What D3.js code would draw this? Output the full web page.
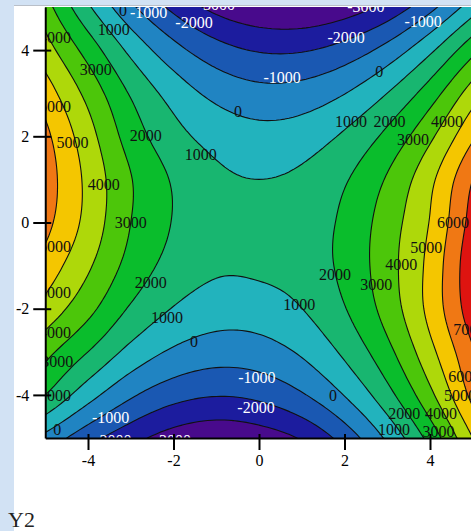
<!DOCTYPE html>
<html>
<head>
<meta charset="utf-8">
<script src="https://cdn.jsdelivr.net/npm/d3@7"></script>
<style>
body { margin: 0; background: #d2e2f4; }
svg { display: block; }
</style>
</head>
<body>
<script>
// sampled surface, x = -5..5 (columns), y = 5..-5 (rows, top first)
var xVals = [-5, -4, -3, -2, -1, 0, 1, 2, 3, 4, 5];
var yVals = [5, 4, 3, 2, 1, 0, -1, -2, -3, -4, -5];
var zRows = [
	[3400, 1150, -800, -2250, -3300, -3850, -3950, -3550, -2700, -1300, 500],
	[4450, 2600, 750, -650, -1600, -2080, -2080, -1600, -650, 800, 2700],
	[5500, 3700, 1900, 600, -280, -680, -590, -30, 1000, 2500, 4500],
	[6250, 4400, 2550, 1350, 650, 340, 500, 1150, 2250, 3800, 5850],
	[6500, 4750, 3050, 1900, 1200, 1000, 1200, 1900, 3100, 4750, 7000],
	[6300, 4680, 3000, 1950, 1350, 1230, 1480, 2200, 3500, 5050, 7400],
	[5600, 4150, 2650, 1650, 1150, 1180, 1450, 2250, 3600, 5300, 7750],
	[4650, 3300, 1880, 950, 490, 520, 990, 1950, 3400, 5300, 7600],
	[3300, 2000, 700, -150, -530, -430, 140, 1200, 2700, 4700, 6900],
	[2000, 400, -850, -1630, -1940, -1760, -1100, 40, 1650, 3750, 6300],
	[-300, -1650, -2650, -3450, -3800, -3550, -2900, -1600, 180, 2350, 5000]
];

var levels = [-5000, -4000, -3000, -2000, -1000, 0, 1000, 2000, 3000, 4000, 5000, 6000, 7000];
var bandColors = ["#480a8c", "#480a8c", "#1c1c9e", "#1a58b2", "#2084c2", "#22b3bd",
	"#18b670", "#0abd2c", "#4cc60a", "#aed80a", "#f4c600", "#f07814", "#de1410"];

var xTicks = [-4, -2, 0, 2, 4];
var yTicks = [-4, -2, 0, 2, 4];

// contour labels (value, and where it sits in data units)
var labelVals = [-1000, -2000, -3000, -3000, 1000, 0, 4000, 3000, 6000, 5000, 2000, 1000, 0,
	-1000, -2000, -1000, 0, 1000, 2000, 4000, 3000, 4000, 3000, 6000, 5000, 4000, 3000, 2000,
	6000, 5000, 4000, 3000, 2000, 2000, 1000, 0, 1000, -1000, -2000, 0, -1000, -2000, -3000,
	0, 1000, 3000, 2000, 4000, 5000, 6000, 7000];
var labelX = [-2.58, -1.52, -1.0, 2.5, -3.4, -3.18, -4.77, -3.82, -4.77, -4.36, -2.65, -1.36, -0.49,
	0.54, 2.04, 3.84, 2.81, 2.15, 3.05, 4.4, 3.6, -3.63, -3.0, 4.54, 3.91, 3.33, 2.74, 1.78,
	-4.77, -4.77, -4.77, -4.72, -4.77, -2.53, -2.15, -1.52, 0.94, -0.05, -0.07, 1.73, -3.47, -3.42, -2.03,
	-4.72, 3.16, 4.2, 3.4, 4.26, 4.7, 4.8, 4.92];
var labelY = [4.88, 4.65, 5.05, 5.02, 4.47, 4.92, 4.3, 3.56, 2.7, 1.86, 2.02, 1.58, 2.58,
	3.37, 4.3, 4.67, 3.51, 2.35, 2.35, 2.35, 1.93, 0.88, 0, 0, -0.58, -0.98, -1.44, -1.21,
	-0.56, -1.63, -2.56, -3.23, -4.0, -1.4, -2.21, -2.77, -1.9, -3.6, -4.3, -4.0, -4.52, -5.05, -5.05,
	-4.81, -4.8, -4.85, -4.44, -4.44, -4.0, -3.58, -2.49];

var W = 471, H = 531;
var res = 10; // samples per unit when drawing

var svg = d3.select("body").append("svg")
	.attr("width", W)
	.attr("height", H);

// white panel
svg.append("rect")
	.attr("x", 14).attr("y", 6)
	.attr("width", W - 14).attr("height", H - 6)
	.attr("fill", "#fff");
svg.append("line")
	.attr("x1", 14).attr("x2", W).attr("y1", 5.5).attr("y2", 5.5)
	.attr("stroke", "#b9bfc8");

var x = d3.scaleLinear().domain([-5, 5]).range([45.25, 472.75]);
var y = d3.scaleLinear().domain([-5, 5]).range([438, 7]);

// cubic through the samples, used only to draw smooth bands
var cubic = function(arr, n) {
	var m = arr.length, out = [];
	var at = function(i) {
		if (i < 0) return 2 * arr[0] - arr[1];
		if (i > m - 1) return 2 * arr[m - 1] - arr[m - 2];
		return arr[i];
	};
	for (var k = 0; k <= (m - 1) * n; k++) {
		var s = k / n, i = Math.min(Math.floor(s), m - 2), t = s - i;
		var p0 = at(i - 1), p1 = at(i), p2 = at(i + 1), p3 = at(i + 2);
		out.push(0.5 * (2 * p1 + (p2 - p0) * t + (2 * p0 - 5 * p1 + 4 * p2 - p3) * t * t +
			(3 * p1 - p0 - 3 * p2 + p3) * t * t * t));
	}
	return out;
};

var fineRows = zRows.map(function(r) { return cubic(r, res); });
var nx = fineRows[0].length;
var cols = d3.range(nx).map(function(j) {
	return cubic(fineRows.map(function(r) { return r[j]; }), res);
});
var ny = cols[0].length;
var values = new Array(nx * ny);
for (var i = 0; i < ny; i++)
	for (var j = 0; j < nx; j++) values[i * nx + j] = cols[j][i];

var contours = d3.contours()
	.size([nx, ny])
	.thresholds(levels)(values);

var proj = d3.geoTransform({
	point: function(px, py) {
		this.stream.point(x(xVals[0] + (px - 0.5) / res), y(yVals[0] - (py - 0.5) / res));
	}
});
var path = d3.geoPath(proj);

svg.append("clipPath").attr("id", "plotClip")
	.append("rect")
	.attr("x", x(-5)).attr("y", y(5))
	.attr("width", x(5) - x(-5)).attr("height", y(-5) - y(5));

var plot = svg.append("g").attr("clip-path", "url(#plotClip)");

plot.selectAll("path.band")
	.data(contours)
	.enter().append("path")
	.attr("class", "band")
	.attr("d", path)
	.attr("fill", function(d, k) { return bandColors[k]; })
	.attr("stroke", "#111")
	.attr("stroke-width", 1.1);

plot.selectAll("text.clab")
	.data(labelVals)
	.enter().append("text")
	.attr("class", "clab")
	.attr("x", function(d, k) { return x(labelX[k]); })
	.attr("y", function(d, k) { return y(labelY[k]); })
	.attr("dy", "0.35em")
	.attr("text-anchor", "middle")
	.attr("font-family", "Liberation Serif, serif")
	.attr("font-size", 16)
	.attr("fill", function(d) { return d < 0 ? "#fff" : "#111"; })
	.text(function(d) { return d; });

// axes
var fmt = function(d) { return String(d); };
var xAxis = d3.axisBottom(x).tickValues(xTicks).tickFormat(fmt)
	.tickSizeInner(12).tickSizeOuter(0).tickPadding(5);
var yAxis = d3.axisLeft(y).tickValues(yTicks).tickFormat(fmt)
	.tickSizeInner(12).tickSizeOuter(0).tickPadding(4);

var gx = svg.append("g")
	.attr("transform", "translate(0," + y(-5) + ")")
	.call(xAxis);
var gy = svg.append("g")
	.attr("transform", "translate(" + x(-5) + ",0)")
	.call(yAxis);

[gx, gy].forEach(function(g) {
	g.select(".domain").attr("stroke", "#000").attr("stroke-width", 2);
	g.selectAll(".tick line").attr("stroke", "#000").attr("stroke-width", 2);
	g.selectAll(".tick text")
		.attr("fill", "#000")
		.attr("font-family", "Liberation Serif, serif")
		.attr("font-size", 16);
});
gx.selectAll(".tick line").attr("y1", -4);
gy.selectAll(".tick line").attr("x1", 6);

svg.append("text")
	.attr("x", 8)
	.attr("y", 527)
	.attr("font-family", "Liberation Serif, serif")
	.attr("font-size", 22)
	.attr("fill", "#222")
	.text("Y2");
</script>
</body>
</html>
